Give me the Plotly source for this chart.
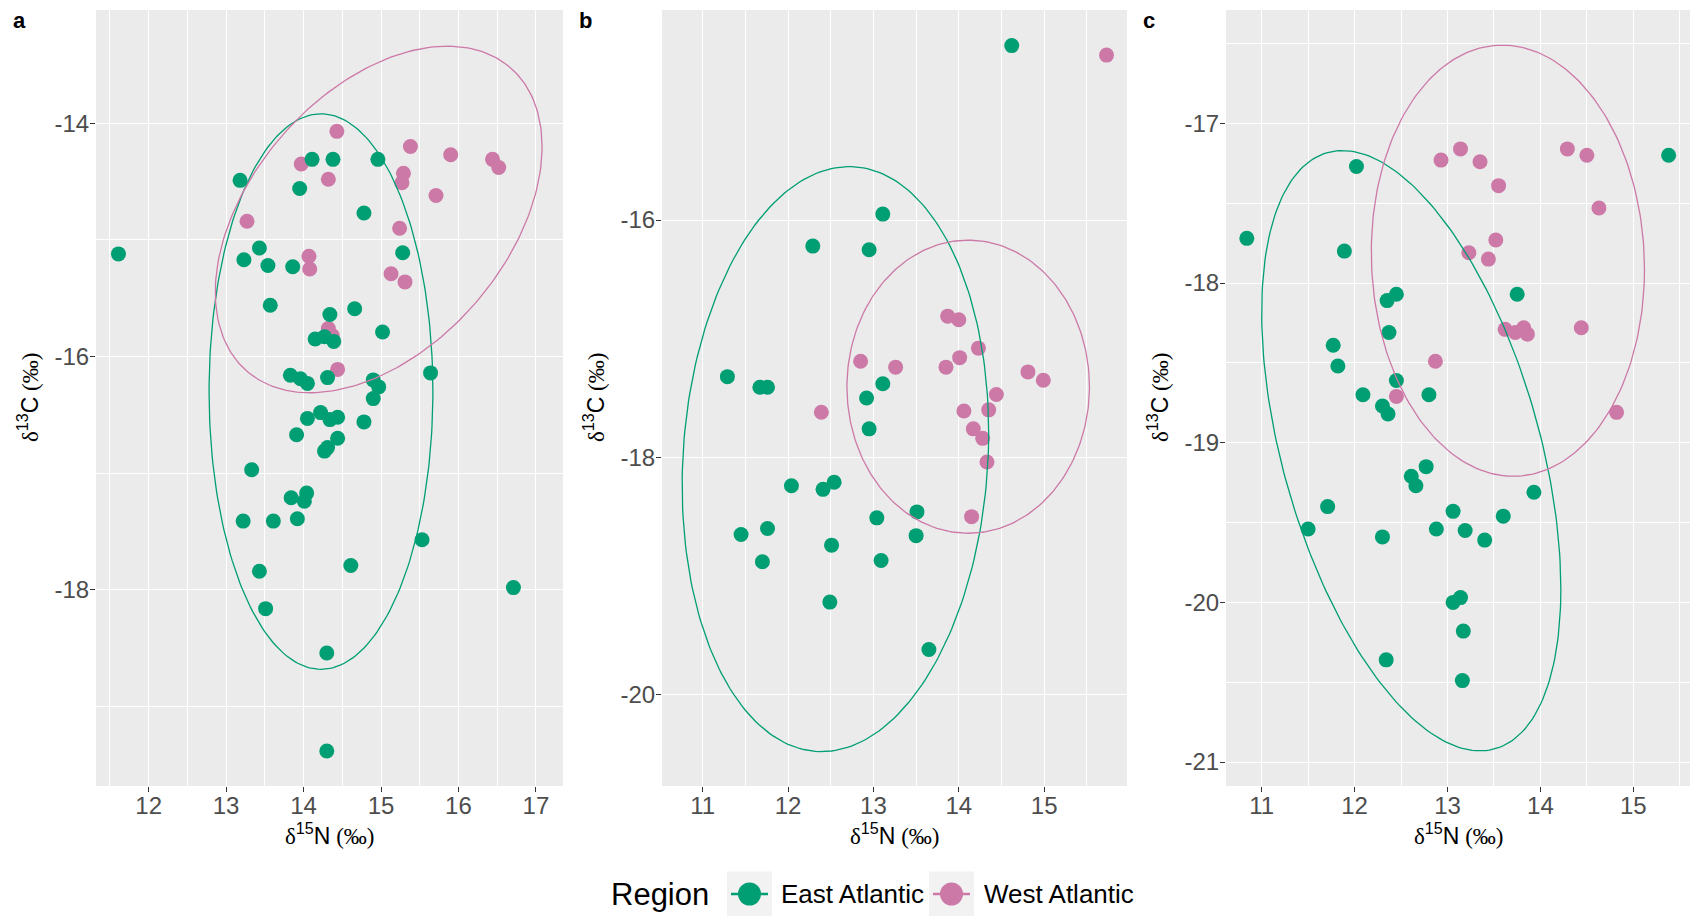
import numpy as np
import plotly.graph_objects as go

# ---------------------------------------------------------------------------
# Stable isotope values (delta15N, delta13C) per panel and region
# ---------------------------------------------------------------------------
a_east_n = [11.61, 13.18, 14.11, 14.38, 14.96, 13.95, 14.78, 13.43, 13.23, 13.54,
            13.86, 15.28, 13.57, 14.66, 14.34, 15.02, 14.15, 14.27, 14.39, 15.64,
            13.83, 13.96, 14.05, 14.31, 14.90, 14.97, 14.90, 14.05, 14.22, 14.34,
            14.44, 14.78, 13.91, 14.44, 14.31, 14.27, 13.33, 14.04, 13.84, 14.01,
            13.22, 13.61, 13.92, 15.53, 14.61, 13.43, 16.71, 13.51, 14.30, 14.30]
a_east_c = [-15.12, -14.49, -14.31, -14.31, -14.31, -14.56, -14.77, -15.07, -15.17, -15.22,
            -15.23, -15.11, -15.56, -15.59, -15.64, -15.79, -15.85, -15.83, -15.87, -16.14,
            -16.16, -16.19, -16.23, -16.18, -16.20, -16.26, -16.36, -16.53, -16.48, -16.54,
            -16.52, -16.56, -16.67, -16.70, -16.78, -16.81, -16.97, -17.17, -17.21, -17.24,
            -17.41, -17.41, -17.39, -17.57, -17.79, -17.84, -17.98, -18.16, -18.54, -19.38]
a_west_n = [14.43, 15.38, 15.90, 16.44, 16.52, 13.97, 14.32, 15.29, 15.27, 15.71,
            13.27, 15.24, 14.07, 14.08, 15.13, 15.31, 14.32, 14.37, 14.44]
a_west_c = [-14.07, -14.20, -14.27, -14.31, -14.38, -14.35, -14.48, -14.43, -14.51, -14.62,
            -14.84, -14.90, -15.14, -15.25, -15.29, -15.36, -15.76, -15.82, -16.11]

b_east_n = [14.62, 13.11, 12.29, 12.95, 11.29, 11.67, 11.76, 13.11, 12.92, 12.95,
            12.04, 12.41, 12.54, 13.51, 13.04, 11.45, 11.76, 13.50, 12.51, 11.70,
            13.09, 12.49, 13.65]
b_east_c = [-14.53, -15.95, -16.22, -16.25, -17.32, -17.41, -17.41, -17.38, -17.50, -17.76,
            -18.24, -18.27, -18.21, -18.46, -18.51, -18.65, -18.60, -18.66, -18.74, -18.88,
            -18.87, -19.22, -19.62]
b_west_n = [15.73, 13.87, 14.00, 14.23, 14.01, 12.85, 13.26, 13.85, 14.81, 14.99,
            14.44, 12.39, 14.06, 14.35, 14.17, 14.28, 14.33, 14.15]
b_west_c = [-14.61, -16.81, -16.84, -17.08, -17.16, -17.19, -17.24, -17.24, -17.28, -17.35,
            -17.47, -17.62, -17.61, -17.60, -17.76, -17.84, -18.04, -18.50]

c_east_n = [10.84, 12.02, 15.38, 11.89, 13.75, 12.45, 12.35, 12.37, 11.77, 11.82,
            12.45, 12.09, 12.80, 12.30, 12.36, 12.77, 12.61, 12.66, 13.93, 11.71,
            13.06, 13.60, 11.50, 12.88, 13.19, 12.30, 13.40, 13.14, 13.06, 13.17,
            12.34, 13.16]
c_east_c = [-17.72, -17.27, -17.20, -17.80, -18.07, -18.07, -18.11, -18.31, -18.39, -18.52,
            -18.61, -18.70, -18.70, -18.77, -18.82, -19.15, -19.21, -19.27, -19.31, -19.40,
            -19.43, -19.46, -19.54, -19.54, -19.55, -19.59, -19.61, -19.97, -20.00, -20.18,
            -20.36, -20.49]
c_west_n = [13.14, 12.93, 13.35, 14.29, 14.50, 13.55, 14.63, 13.52, 13.23, 13.44,
            13.62, 13.73, 13.82, 13.86, 14.44, 12.87, 12.45, 14.82]
c_west_c = [-17.16, -17.23, -17.24, -17.16, -17.20, -17.39, -17.53, -17.73, -17.81, -17.85,
            -18.29, -18.31, -18.28, -18.32, -18.28, -18.49, -18.71, -18.81]

# Niche ellipses: centre (N, C), half-extent in N, half-extent in C, correlation
a_east_ellipse = [14.225, -16.30, 1.445, 2.38, 0.0]
a_west_ellipse = [14.97, -14.825, 2.11, 1.485, 0.42]
b_east_ellipse = [12.555, -18.015, 1.795, 2.465, 0.09]
b_west_ellipse = [14.11, -17.405, 1.42, 1.235, 0.0]
c_east_ellipse = [12.61, -19.05, 1.61, 1.88, -0.46]
c_west_ellipse = [13.65, -17.86, 1.47, 1.35, -0.04]

# Axis ticks
a_x_ticks = [12, 13, 14, 15, 16, 17]
a_y_ticks = [-14, -16, -18]
b_x_ticks = [11, 12, 13, 14, 15]
b_y_ticks = [-16, -18, -20]
c_x_ticks = [11, 12, 13, 14, 15]
c_y_ticks = [-17, -18, -19, -20, -21]

regions = ["East Atlantic", "West Atlantic"]
panel_letters = ["a", "b", "c"]

# ---------------------------------------------------------------------------
W, H = 1690, 916
EAST_COL = "#009E73"
WEST_COL = "#CC79A7"
SANS = "Liberation Sans, Arial, sans-serif"
SERIF = "Liberation Serif"


def px_x(p):
    return p / W


def px_y(p):
    return 1 - p / H


def ellipse(params, n=241):
    cx, cy, rx, ry, rho = params
    t = np.linspace(0, 2 * np.pi, n)
    x = cx + rx * np.cos(t)
    y = cy + ry * (rho * np.cos(t) + np.sqrt(1 - rho ** 2) * np.sin(t))
    return x, y


def minus(v):
    return f"-{abs(v):g}" if v < 0 else f"{v:g}"


panels = [
    dict(east=(a_east_n, a_east_c), west=(a_west_n, a_west_c),
         ell=(a_east_ellipse, a_west_ellipse), xt=a_x_ticks, yt=a_y_ticks, ydt=2,
         px=(96, 563), xr=[11.32, 17.35], yr=[-19.68, -13.03], east_on_top=True),
    dict(east=(b_east_n, b_east_c), west=(b_west_n, b_west_c),
         ell=(b_east_ellipse, b_west_ellipse), xt=b_x_ticks, yt=b_y_ticks, ydt=2,
         px=(662, 1127), xr=[10.524, 15.97], yr=[-20.77, -14.23], east_on_top=True),
    dict(east=(c_east_n, c_east_c), west=(c_west_n, c_west_c),
         ell=(c_east_ellipse, c_west_ellipse), xt=c_x_ticks, yt=c_y_ticks, ydt=1,
         px=(1226, 1690), xr=[10.616, 15.61], yr=[-21.15, -16.29], east_on_top=False),
]

PLOT_TOP, PLOT_BOTTOM = 10, 786

fig = go.Figure()
layout = dict(
    width=W, height=H, autosize=False,
    margin=dict(l=0, r=0, t=0, b=0),
    paper_bgcolor="white", plot_bgcolor="#EBEBEB",
    showlegend=False,
    font=dict(family=SANS, color="black"),
)

annotations = []
shapes = []

for i, p in enumerate(panels):
    k = "" if i == 0 else str(i + 1)
    xref, yref = "x" + k, "y" + k

    east_tr = go.Scatter(x=p["east"][0], y=p["east"][1], mode="markers", name=regions[0],
                         marker=dict(color=EAST_COL, size=15, line=dict(width=0)),
                         xaxis=xref, yaxis=yref, legendgroup=regions[0])
    west_tr = go.Scatter(x=p["west"][0], y=p["west"][1], mode="markers", name=regions[1],
                         marker=dict(color=WEST_COL, size=15, line=dict(width=0)),
                         xaxis=xref, yaxis=yref, legendgroup=regions[1])
    if p["east_on_top"]:
        fig.add_trace(west_tr)
        fig.add_trace(east_tr)
    else:
        fig.add_trace(east_tr)
        fig.add_trace(west_tr)

    for params, col, name in zip(p["ell"], (EAST_COL, WEST_COL), regions):
        ex, ey = ellipse(params)
        fig.add_trace(go.Scatter(x=ex, y=ey, mode="lines", name=name,
                                 line=dict(color=col, width=1.3),
                                 xaxis=xref, yaxis=yref, legendgroup=name,
                                 hoverinfo="skip"))

    x0, x1 = p["px"]
    xmin, xmax = p["xr"]
    ymin, ymax = p["yr"]
    x_minor = [v + 0.5 for v in range(int(np.floor(xmin)) - 1, int(np.ceil(xmax)) + 1)
               if xmin < v + 0.5 < xmax]
    y_minor = [v + p["ydt"] / 2 for v in np.arange(np.floor(ymin) - 2, np.ceil(ymax) + 2, p["ydt"])
               if ymin < v + p["ydt"] / 2 < ymax and (v + p["ydt"] / 2) not in p["yt"]]

    common = dict(
        ticks="outside", ticklen=5, tickwidth=1.1, tickcolor="#333333",
        tickfont=dict(family=SANS, size=24, color="#4D4D4D"),
        showgrid=True, gridcolor="white", gridwidth=1.2,
        zeroline=False, showline=False, fixedrange=True,
    )
    layout["xaxis" + k] = dict(
        domain=[px_x(x0), px_x(x1)], range=p["xr"], anchor=yref,
        tickmode="array", tickvals=p["xt"], ticktext=[minus(v) for v in p["xt"]],
        ticklabelstandoff=-7,
        minor=dict(tickvals=x_minor, showgrid=True, gridcolor="white", gridwidth=0.6, ticks=""),
        **common,
    )
    layout["yaxis" + k] = dict(
        domain=[px_y(PLOT_BOTTOM), px_y(PLOT_TOP)], range=p["yr"], anchor=xref,
        tickmode="array", tickvals=p["yt"], ticktext=[minus(v) for v in p["yt"]],
        ticklabelstandoff=-4,
        minor=dict(tickvals=y_minor, showgrid=True, gridcolor="white", gridwidth=0.6, ticks=""),
        **common,
    )

    # axis titles
    xmid = (x0 + x1) / 2
    annotations.append(dict(
        xref="paper", yref="paper", x=px_x(xmid), y=px_y(834),
        xanchor="center", yanchor="middle", showarrow=False,
        text=(f"<span style=\"font-family:{SERIF}\">δ</span><sup>15</sup>N"
              f"<span style=\"font-family:{SERIF}\"> (‰)</span>"),
        font=dict(family=SANS, size=23, color="black"),
    ))
    annotations.append(dict(
        xref="paper", yref="paper", x=px_x(x0 - 68), y=px_y((PLOT_TOP + PLOT_BOTTOM) / 2),
        xanchor="center", yanchor="middle", showarrow=False, textangle=-90,
        text=(f"<span style=\"font-family:{SERIF}\">δ</span><sup>13</sup>C"
              f"<span style=\"font-family:{SERIF}\"> (‰)</span>"),
        font=dict(family=SANS, size=23, color="black"),
    ))
    # panel letter
    annotations.append(dict(
        xref="paper", yref="paper", x=px_x(x0 - 77), y=px_y(20),
        xanchor="center", yanchor="middle", showarrow=False,
        text=f"<b>{panel_letters[i]}</b>",
        font=dict(family=SANS, size=22, color="black"),
    ))

# ---------------------------------------------------------------------------
# Legend along the bottom: title, two keys (grey box, line, dot) and labels
# ---------------------------------------------------------------------------
LEG_Y = 894
annotations.append(dict(
    xref="paper", yref="paper", x=px_x(609), y=px_y(LEG_Y),
    xanchor="left", yanchor="middle", showarrow=False,
    text="Region", font=dict(family=SANS, size=31, color="black"),
))
KEY = 45
key_left = [727, 929]
label_left = [779, 982]
for kx, lx, col, name in zip(key_left, label_left, (EAST_COL, WEST_COL), regions):
    shapes.append(dict(type="rect", xref="paper", yref="paper",
                       x0=px_x(kx), x1=px_x(kx + KEY),
                       y0=px_y(LEG_Y + KEY / 2), y1=px_y(LEG_Y - KEY / 2),
                       fillcolor="#F2F2F2", line=dict(width=0), layer="above"))
    shapes.append(dict(type="line", xref="paper", yref="paper",
                       x0=px_x(kx + 4), x1=px_x(kx + KEY - 4), y0=px_y(LEG_Y), y1=px_y(LEG_Y),
                       line=dict(color=col, width=2.6), layer="above"))
    cx = kx + KEY / 2
    shapes.append(dict(type="circle", xref="paper", yref="paper",
                       x0=px_x(cx - 11.5), x1=px_x(cx + 11.5),
                       y0=px_y(LEG_Y + 11.5), y1=px_y(LEG_Y - 11.5),
                       fillcolor=col, line=dict(width=0), layer="above"))
    annotations.append(dict(
        xref="paper", yref="paper", x=px_x(lx), y=px_y(LEG_Y),
        xanchor="left", yanchor="middle", showarrow=False,
        text=name, font=dict(family=SANS, size=26, color="black"),
    ))

layout["annotations"] = annotations
layout["shapes"] = shapes
fig.update_layout(**layout)

fig.write_html("out.html")
